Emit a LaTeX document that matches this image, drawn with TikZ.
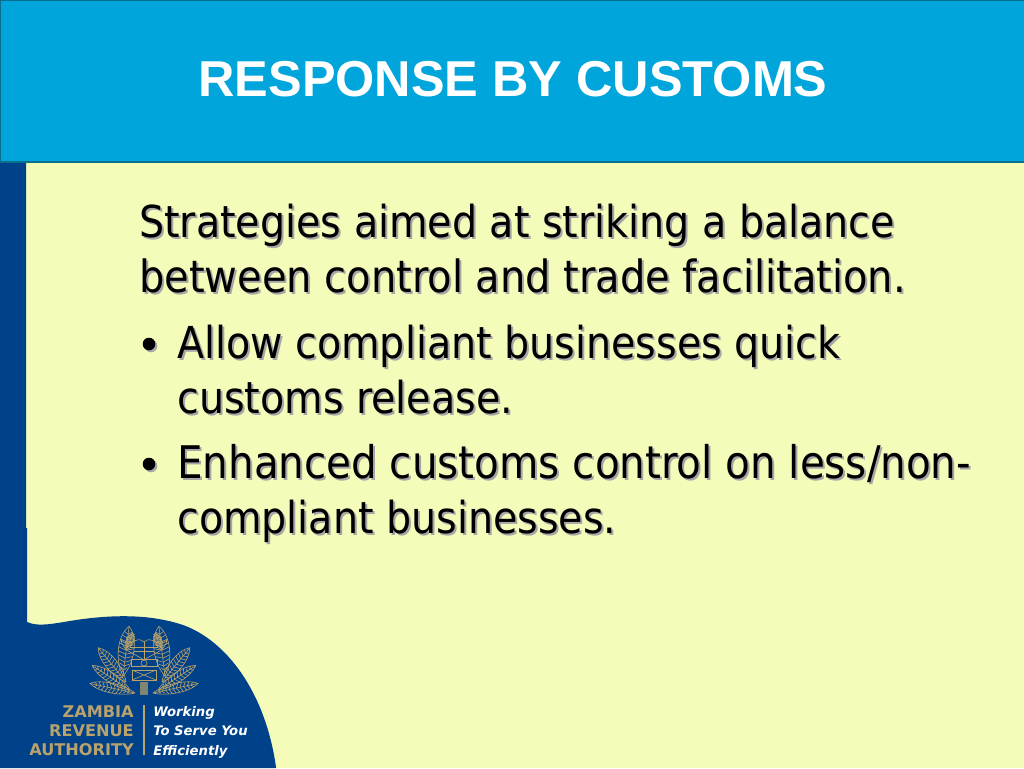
\documentclass[tikz,border=0pt]{standalone}
\usepackage{fontspec}
\setmainfont{DejaVu Sans Condensed}
\newfontfamily\titlefont{Liberation Sans}
\newfontfamily\logofont{DejaVu Sans}
\usetikzlibrary{calc}
\definecolor{headblue}{HTML}{00A5DB}
\definecolor{headline}{HTML}{0A6F8E}
\definecolor{navyblue}{HTML}{00428A}
\definecolor{paleyellow}{HTML}{F5FBB9}
\definecolor{logogold}{HTML}{B9A26C}
\tikzset{
  bodytext/.style={anchor=base west,inner sep=0pt,font=\fontsize{33}{40}\selectfont},
  bodyshadow/.style={bodytext,text=black!35},
  logoname/.style={anchor=base east,inner sep=0pt,text=logogold,font=\logofont\bfseries\fontsize{12.1}{14}\selectfont},
  logomotto/.style={anchor=base west,inner sep=0pt,text=white,font=\logofont\bfseries\itshape\fontsize{9.9}{12}\selectfont},
  leafline/.style={draw=logogold,line width=0.45pt}
}
% one line of body text with its shadow
\newcommand{\bodyline}[4]{
\node[bodyshadow] (#1s) at (#2+2,#3+2) {#4};
\node[bodytext] (#1) at (#2,#3) {#4};
}
% one bullet with its shadow
\newcommand{\bodybullet}[3]{
\fill[black!35] (#2+2,#3+2) circle (6.3);
\fill[black] (#2,#3) circle (6.3);
}
% one feather of the emblem: base x, base y, angle, length, half width
\newcommand{\emblemleaf}[5]{
\begin{scope}[shift={(#1,#2)},rotate=#3]
\draw[leafline] (0,0) .. controls (0.3*#4,#5*1.3) and (0.8*#4,#5*1.3) .. (#4,0)
  .. controls (0.8*#4,-#5*1.3) and (0.3*#4,-#5*1.3) .. (0,0);
\draw[leafline] (0,0)--(#4,0);
\foreach \t in {0.12,0.2,...,0.9}{
  \pgfmathsetmacro{\w}{#5*sin(180*\t)}
  \draw[leafline] (\t*#4,0)--(\t*#4+2.5,\w) (\t*#4,0)--(\t*#4+2.5,-\w);
}
\end{scope}
}
\begin{document}
\begin{tikzpicture}[x=0.75pt,y=-0.75pt]
\useasboundingbox (0,0) rectangle (1024,768);
\fill[paleyellow] (0,0) rectangle (1024,768);

% left band and logo corner
\fill[navyblue] (0,162)--(26,162)--(26,528)--(27,528)--(27,622)
  .. controls (40,628) and (60,622) .. (83,619)
  .. controls (115,615) and (150,614) .. (183,625)
  .. controls (225,640) and (265,690) .. (276,767)
  --(276,768)--(0,768)--cycle;

% header
\fill[headblue] (0,0) rectangle (1024,161);
\draw[headline,line width=1pt] (0.5,161)--(0.5,0.5)--(1024,0.5);
\draw[headline,line width=1.5pt] (0,161.5)--(1024,161.5);
\node[anchor=base,inner sep=0pt,text=white,font=\titlefont\bfseries\fontsize{37.8}{44}\selectfont] (title) at (513,96) {RESPONSE BY CUSTOMS};

% body
\bodyline{strategies}{139}{237}{Strategies aimed at striking a balance}
\bodyline{between}{139}{292}{\fontsize{33.3}{40}\selectfont between control and trade facilitation.}
\bodybullet{bulleta}{149}{344}
\bodyline{allow}{177}{358}{Allow compliant businesses quick}
\bodyline{customs}{177}{413}{customs release.}
\bodybullet{bulletb}{149}{464}
\bodyline{enhanced}{177}{478}{\fontsize{33.7}{40}\selectfont Enhanced customs control on less/non-}
\bodyline{compliant}{177}{533}{compliant businesses.}

% emblem
\foreach \s in {1,-1}{
\begin{scope}[shift={(144,0)},xscale=\s]
\emblemleaf{-9}{693}{168}{46}{5}
\emblemleaf{-14}{690}{147}{45}{5}
\emblemleaf{-18}{682}{129}{44}{6}
\emblemleaf{-21}{676}{83}{50}{8}
\emblemleaf{-18}{650}{67}{18}{4}
\end{scope}
}
\draw[leafline] (121,640) .. controls (130,650) and (136,634) .. (144,642)
  .. controls (152,634) and (158,650) .. (167,640)
  .. controls (165,652) and (152,654) .. (144,660)
  .. controls (136,654) and (123,652) .. (121,640)--cycle;
\draw[leafline] (144,642)--(144,660) (130,647)--(158,647) (134,651)--(154,651);
\draw[leafline] (131,659) rectangle (157,666);
\draw[leafline] (144,663) circle (3);
\draw[leafline] (132,670) rectangle (156,680);
\draw[leafline] (132,670)--(156,680) (156,670)--(132,680);
\fill[logogold,opacity=0.7] (140,682) rectangle (148,695);

% logo text
\node[logoname] (zambia) at (134,717) {ZAMBIA};
\node[logoname] (revenue) at (134,736) {REVENUE};
\node[logoname] (authority) at (134,755) {AUTHORITY};
\draw[logogold,line width=1.5pt] (144,705)--(144,755);
\node[logomotto] (working) at (153,716) {Working};
\node[logomotto] (serve) at (153,735) {To Serve You};
\node[logomotto] (efficiently) at (153,755) {Efficiently};
\end{tikzpicture}
\end{document}
